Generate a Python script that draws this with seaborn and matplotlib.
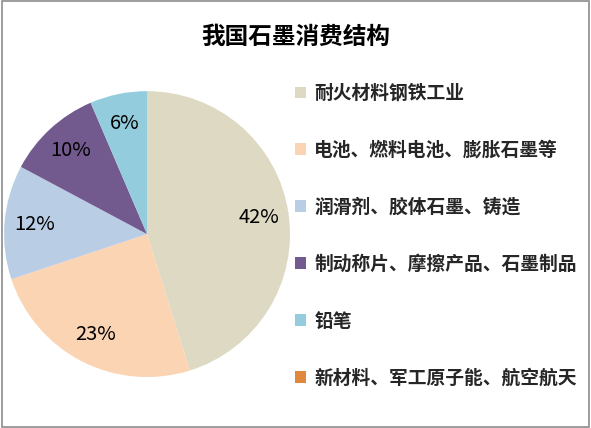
import matplotlib
matplotlib.use("Agg")
import matplotlib.pyplot as plt
from matplotlib.patches import Rectangle, Patch
import numpy as np
import seaborn as sns

sns.set_theme(style="white")
plt.rcParams['font.family'] = ['Noto Sans CJK SC', 'DejaVu Sans']

title = "我国石墨消费结构"
categories = ["耐火材料钢铁工业", "电池、燃料电池、膨胀石墨等", "润滑剂、胶体石墨、铸造",
              "制动称片、摩擦产品、石墨制品", "铅笔", "新材料、军工原子能、航空航天"]
values = [42, 23, 12, 10, 6, 0]
pct_labels = ["42%", "23%", "12%", "10%", "6%", ""]
colors = ["#DDD9C3", "#FBD4B4", "#B9CDE5", "#72598E", "#93CDDD", "#E0883E"]

fig = plt.figure(figsize=(5.91, 4.28), dpi=100)
fig.patch.set_facecolor("white")
ax = fig.add_axes([0.0068, 0.119, 0.484, 0.668])

wedges, _ = ax.pie(values, colors=colors, startangle=90, counterclock=False,
                   wedgeprops=dict(linewidth=0))
ax.set_xlim(-1, 1)
ax.set_ylim(-1, 1)
ax.set_aspect("equal")

# percentage labels at wedge mid angles
for w, lab in zip(wedges, pct_labels):
    if not lab:
        continue
    ang = np.deg2rad((w.theta1 + w.theta2) / 2)
    r = 0.79
    ax.text(r * np.cos(ang), r * np.sin(ang), lab, ha="center", va="center",
            fontsize=14.5, color="black")

fig.text(0.5, 0.913, title, ha="center", va="center", fontsize=17,
         fontweight="bold", color="black")

handles = [Patch(facecolor=c, edgecolor="none") for c in colors]
leg = fig.legend(handles, categories, loc="upper left", bbox_to_anchor=(0.47, 0.843),
                 frameon=False, fontsize=13.5, labelspacing=2.02,
                 handlelength=0.6, handleheight=0.6, handletextpad=0.45)
for t in leg.get_texts():
    t.set_fontweight("bold")

fig.patches.append(Rectangle((0.003, 0.003), 0.994, 0.994, transform=fig.transFigure,
                             fill=False, edgecolor="#8C8C8C", linewidth=1.2))

fig.savefig("out.png", dpi=100, facecolor="white")
